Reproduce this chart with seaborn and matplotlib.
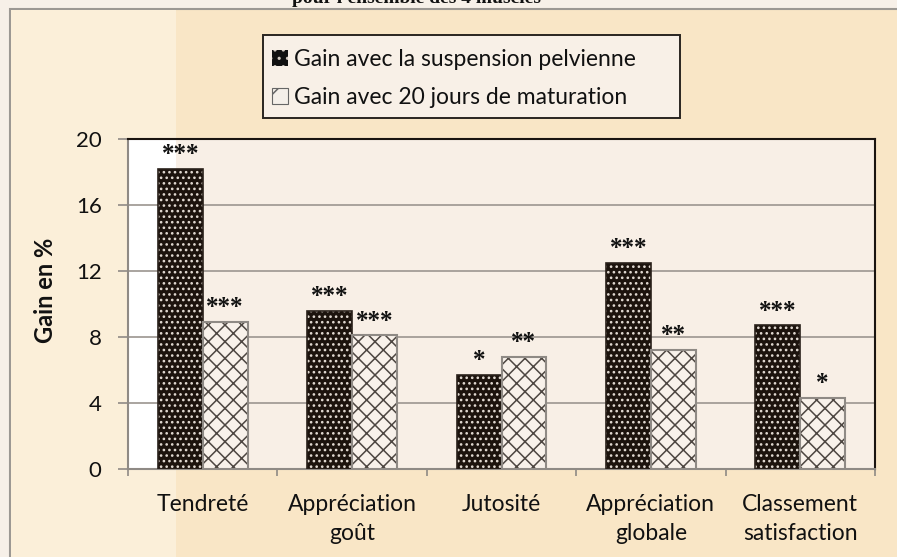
import matplotlib
matplotlib.use("Agg")
import matplotlib.pyplot as plt
from matplotlib.patches import Rectangle, Patch
from matplotlib.ticker import MultipleLocator
import seaborn as sns
import pandas as pd

categories = ["Tendreté", "Appréciation\ngoût", "Jutosité", "Appréciation\nglobale", "Classement\nsatisfaction"]
series_names = ["Gain avec la suspension pelvienne", "Gain avec 20 jours de maturation"]
gain_suspension = [18.2, 9.6, 5.7, 12.5, 8.7]
gain_maturation = [8.9, 8.1, 6.8, 7.2, 4.3]
stars_suspension = ["***", "***", "*", "***", "***"]
stars_maturation = ["***", "***", "**", "**", "*"]
y_ticks = [0, 4, 8, 12, 16, 20]
title_text = "pour l'ensemble des 4 muscles"
y_label = "Gain en %"

df = pd.DataFrame({
    "critere": categories * 2,
    "serie": [series_names[0]] * 5 + [series_names[1]] * 5,
    "gain": gain_suspension + gain_maturation,
})

sns.set_theme(style="white")
plt.rcParams["font.family"] = ["Lato", "DejaVu Sans"]
plt.rcParams["hatch.linewidth"] = 1.1

W, H = 897, 557
fig = plt.figure(figsize=(W / 100, H / 100), dpi=100)
fig.patch.set_facecolor("#f7f0e8")

# parchment panel
fig.patches.append(Rectangle((10 / W, -0.01), 1.0, 1 - 9 / H + 0.01, transform=fig.transFigure,
                             facecolor="#f9e6c6", edgecolor="#9c9893", linewidth=1.5, zorder=-10))
fig.patches.append(Rectangle((11 / W, -0.01), 165 / W, 1 - 10 / H + 0.01, transform=fig.transFigure,
                             facecolor="#fbefd9", edgecolor="none", zorder=-9))

fig.text(416 / W, 1 - 3 / H, title_text, ha="center", va="baseline",
         fontfamily="Liberation Serif", fontweight="bold", fontsize=14, color="#111111")

ax = fig.add_axes([128 / W, 1 - 469 / H, 747 / W, 330 / H])
ax.set_zorder(2)
ax.set_facecolor("#f8efe6")
ax.add_patch(Rectangle((0, 0), 48 / 747, 1, transform=ax.transAxes, facecolor="white",
                       edgecolor="none", zorder=0))

dark = "#1c130d"
light = "#f8f1ea"
sns.barplot(data=df, x="critere", y="gain", hue="serie", palette=[dark, light],
            width=0.6, saturation=1, ax=ax, legend=False, zorder=3)

dark_c, light_c = ax.containers[0], ax.containers[1]
for p in dark_c:
    p.set_hatch("...")
    p.set_edgecolor("#e2dad2")
    p.set_linewidth(0)
    ax.add_patch(Rectangle(p.get_xy(), p.get_width(), p.get_height(), fill=False,
                           edgecolor="#2a211b", linewidth=1.2, zorder=4))
for p in light_c:
    p.set_hatch("xx")
    p.set_edgecolor("#4d4641")
    p.set_linewidth(0)
    ax.add_patch(Rectangle(p.get_xy(), p.get_width(), p.get_height(), fill=False,
                           edgecolor="#8f8a85", linewidth=1.5, zorder=4))

for cont, labs in ((dark_c, stars_suspension), (light_c, stars_maturation)):
    ax.bar_label(cont, labels=labs, padding=2, fontfamily="Liberation Serif",
                 fontweight="bold", fontsize=18, color="#111111")

ax.set_ylim(0, 20)
ax.set_xlim(-0.5, 4.5)
ax.set_yticks(y_ticks)
ax.yaxis.grid(True, color="#a39d97", linewidth=1.3, zorder=1)
ax.set_axisbelow(True)
ax.tick_params(axis="y", which="major", length=7, width=1.2, color="#8f8a85",
               pad=12, labelsize=16, labelcolor="#111111", left=True)
ax.tick_params(axis="x", which="major", length=0, pad=18, labelsize=16.5, labelcolor="#111111")
for t in ax.get_xticklabels():
    t.set_linespacing(1.5)
ax.xaxis.set_minor_locator(MultipleLocator(1, offset=0.5))
ax.tick_params(axis="x", which="minor", length=5, width=1.2, color="#8f8a85", bottom=True)
ax.set_xlabel("")
ax.set_ylabel(y_label, fontsize=17, fontweight="bold", color="#111111")
ax.yaxis.set_label_coords(-0.095, 0.542)

for side in ("top", "right"):
    ax.spines[side].set_color("#1a1410")
    ax.spines[side].set_linewidth(1.5)
for side in ("left", "bottom"):
    ax.spines[side].set_color("#8f8a85")
    ax.spines[side].set_linewidth(1.5)

# legend box (Excel-like fixed size frame)
fig.patches.append(Rectangle((263 / W, 1 - 118 / H), 417 / W, 83 / H, transform=fig.transFigure,
                             facecolor="#f8f0e7", edgecolor="#2a2520", linewidth=1.4, zorder=4))
handles = [Patch(facecolor="#111111", edgecolor="#d0c8c0", hatch="..", linewidth=0),
           Patch(facecolor="#f4efe9", edgecolor="#666666", hatch="x", linewidth=0.8)]
leg = fig.legend(handles, series_names, loc="upper left",
                 bbox_to_anchor=(265 / W, 1 - 42 / H), bbox_transform=fig.transFigure,
                 fontsize=16.5, frameon=False, handlelength=0.7,
                 handleheight=0.7, handletextpad=0.25, labelspacing=0.75,
                 borderpad=0.3, borderaxespad=0)
leg.set_zorder(5)
for t in leg.get_texts():
    t.set_color("#111111")

fig.savefig("out.png", dpi=100, facecolor=fig.get_facecolor())
